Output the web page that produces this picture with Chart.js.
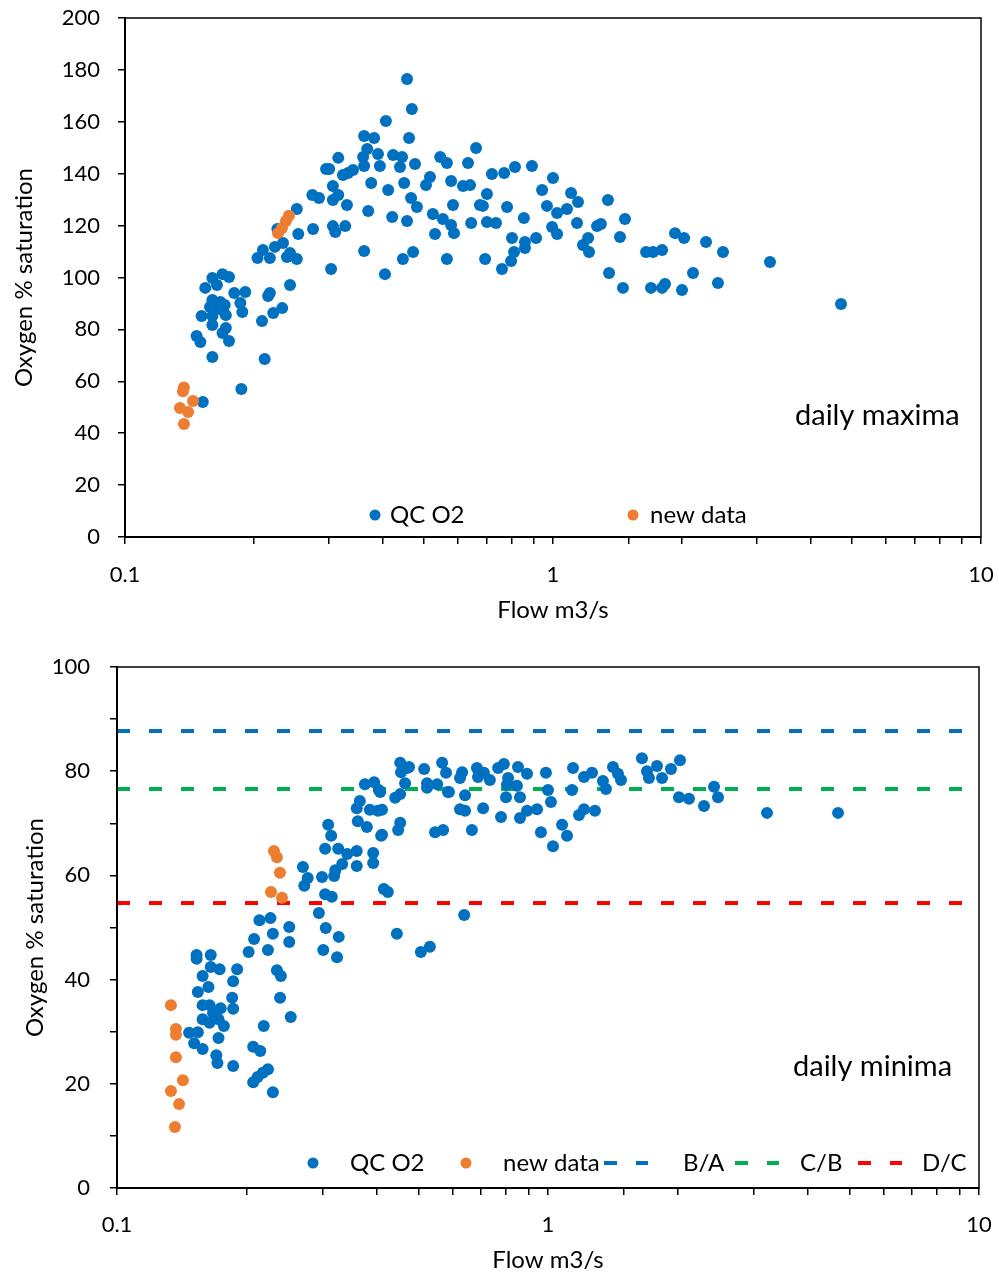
<!DOCTYPE html>
<html>
<head>
<meta charset="utf-8">
<title>Oxygen saturation vs flow</title>
<script src="https://cdn.jsdelivr.net/npm/chart.js@4.4.1/dist/chart.umd.min.js"></script>
<style>
  html, body { margin: 0; padding: 0; background: #fff; }
  .wrap { position: absolute; left: 0; width: 999px; }
  #top { top: 0; height: 640px; }
  #bottom { top: 640px; height: 637px; }
</style>
</head>
<body>
<div class="wrap" id="top"><canvas id="maxChart"></canvas></div>
<div class="wrap" id="bottom"><canvas id="minChart"></canvas></div>
<script>
// ---- data ----
// daily maxima, QC O2
const maxQcFlow = [
  0.456, 0.468, 0.407, 0.362, 0.382, 0.461, 0.368, 0.360, 0.390, 0.394,
  0.423, 0.444, 0.439, 0.476, 0.362, 0.315, 0.295, 0.300, 0.323, 0.332,
  0.341, 0.306, 0.315, 0.306, 0.274, 0.284, 0.376, 0.412, 0.449, 0.466,
  0.481, 0.330, 0.252, 0.370, 0.421, 0.456, 0.275, 0.306, 0.310, 0.327,
  0.254, 0.362, 0.471, 0.446, 0.303, 0.405, 0.243, 0.239, 0.234, 0.224,
  0.210, 0.204, 0.218, 0.243, 0.252, 0.227, 0.169, 0.175, 0.160, 0.154,
  0.164, 0.180, 0.191, 0.218, 0.216, 0.160, 0.167, 0.171, 0.158, 0.164,
  0.186, 0.188, 0.151, 0.160, 0.172, 0.169, 0.233, 0.222, 0.209, 0.160,
  0.172, 0.169, 0.175, 0.147, 0.150, 0.160, 0.212, 0.187, 0.152, 0.545,
  0.565, 0.516, 0.505, 0.578, 0.661, 0.633, 0.616, 0.640, 0.524, 0.553,
  0.578, 0.587, 0.584, 0.530, 0.644, 0.565, 0.675, 0.720, 0.769, 0.815,
  0.893, 0.686, 0.701, 0.781, 0.701, 0.736, 0.802, 0.855, 0.913, 0.860,
  0.811, 0.798, 0.860, 0.760, 0.694, 1.000, 0.943, 0.968, 1.022, 1.078,
  0.995, 1.022, 1.102, 1.144, 1.138, 1.175, 1.208, 1.214, 1.267, 1.294,
  1.344, 1.434, 1.473, 1.352, 1.457, 1.650, 1.713, 1.798, 1.928, 2.024,
  2.278, 2.496, 2.124, 2.429, 2.002, 1.694, 1.798, 1.827, 3.214, 4.709
];
const maxQcO2 = [
  176.5, 164.9, 160.3, 154.5, 153.8, 153.8, 149.5, 146.4, 147.6, 143.0,
  147.2, 146.4, 142.6, 143.7, 143.0, 146.1, 141.8, 141.8, 139.5, 140.3,
  141.4, 135.3, 131.8, 129.9, 131.8, 130.6, 136.4, 133.7, 136.4, 130.6,
  127.2, 127.9, 126.4, 125.6, 123.3, 121.8, 118.7, 119.8, 117.5, 119.8,
  116.8, 110.2, 109.8, 107.1, 103.3, 101.3, 97.1, 107.9, 113.3, 111.8,
  110.6, 107.5, 107.5, 109.4, 107.1, 118.7, 101.3, 100.2, 99.8, 96.0,
  97.1, 94.0, 94.4, 94.0, 92.9, 91.3, 90.6, 89.4, 88.6, 88.2,
  90.2, 86.7, 85.2, 85.2, 85.5, 87.5, 88.2, 86.3, 83.2, 81.7,
  80.5, 78.6, 75.5, 77.5, 75.1, 69.4, 68.6, 57.0, 52.0, 146.4,
  144.1, 138.7, 135.6, 137.2, 149.9, 144.1, 135.3, 135.6, 124.5, 122.5,
  120.2, 117.1, 127.9, 116.8, 121.0, 107.1, 127.9, 139.9, 140.3, 142.6,
  143.0, 127.6, 132.2, 127.2, 121.4, 121.0, 115.2, 122.9, 115.2, 113.7,
  109.8, 106.4, 111.4, 103.3, 107.1, 138.3, 133.7, 127.6, 124.9, 126.4,
  119.5, 116.8, 132.6, 129.1, 121.0, 112.5, 115.2, 109.8, 119.8, 120.6,
  129.9, 115.6, 122.5, 101.7, 96.0, 109.8, 109.8, 110.6, 117.1, 115.2,
  113.7, 109.8, 101.7, 97.9, 95.2, 96.0, 96.0, 97.5, 106.0, 89.8
];
// daily maxima, new data
const maxNewFlow = [0.1373, 0.1366, 0.1442, 0.1344, 0.1404, 0.1373, 0.2278, 0.2327, 0.2377, 0.2416];
const maxNewO2 = [57.6, 56.2, 52.4, 49.7, 48.2, 43.5, 117.1, 119.1, 121.8, 123.8];

// daily minima, QC O2
const minQcFlow = [
  0.214, 0.227, 0.251, 0.230, 0.208, 0.251, 0.202, 0.224, 0.153, 0.153,
  0.165, 0.165, 0.173, 0.190, 0.158, 0.186, 0.235, 0.240, 0.163, 0.154,
  0.185, 0.239, 0.158, 0.164, 0.174, 0.186, 0.167, 0.158, 0.172, 0.164,
  0.177, 0.147, 0.154, 0.172, 0.151, 0.158, 0.253, 0.219, 0.207, 0.215,
  0.170, 0.171, 0.186, 0.224, 0.218, 0.212, 0.207, 0.230, 0.454, 0.471,
  0.456, 0.516, 0.568, 0.580, 0.632, 0.625, 0.684, 0.376, 0.395, 0.405,
  0.466, 0.524, 0.553, 0.589, 0.642, 0.442, 0.454, 0.366, 0.386, 0.403,
  0.360, 0.625, 0.642, 0.362, 0.380, 0.454, 0.449, 0.410, 0.547, 0.571,
  0.666, 0.309, 0.314, 0.304, 0.326, 0.342, 0.360, 0.393, 0.393, 0.360,
  0.333, 0.321, 0.319, 0.299, 0.270, 0.277, 0.272, 0.304, 0.315, 0.416,
  0.425, 0.294, 0.305, 0.327, 0.301, 0.324, 0.446, 0.507, 0.532, 0.639,
  0.408, 0.412, 0.412, 0.476, 0.524, 0.586, 0.688, 0.710, 0.733, 0.766,
  0.790, 0.808, 0.803, 0.847, 0.799, 0.861, 0.852, 0.894, 0.707, 0.778,
  0.861, 0.894, 0.943, 0.989, 1.000, 1.016, 0.963, 1.078, 1.107, 1.027,
  1.143, 1.137, 1.212, 1.265, 1.180, 1.212, 1.285, 1.341, 1.363, 1.415,
  1.453, 1.477, 1.652, 1.697, 1.715, 1.790, 1.839, 1.929, 2.024, 2.013,
  2.124, 2.301, 2.428, 2.480, 3.222, 4.709
];
const minQcO2 = [
  51.4, 51.8, 50.1, 48.8, 47.8, 47.2, 45.3, 45.7, 44.7, 44.0,
  44.7, 42.4, 42.0, 42.0, 40.7, 39.7, 41.8, 40.7, 38.6, 37.6,
  36.5, 36.5, 35.1, 35.1, 34.5, 34.4, 33.6, 32.4, 32.4, 31.7,
  31.1, 29.8, 29.9, 28.8, 27.8, 26.7, 32.8, 31.1, 27.1, 26.3,
  25.5, 24.0, 23.4, 22.8, 22.1, 21.3, 20.3, 18.4, 81.6, 80.6,
  79.8, 80.4, 81.6, 79.7, 79.8, 78.7, 80.6, 77.5, 77.9, 76.4,
  77.7, 77.7, 77.5, 76.0, 75.4, 74.9, 75.6, 74.3, 72.6, 72.4,
  72.9, 72.7, 72.4, 70.4, 69.3, 70.1, 68.7, 67.6, 68.3, 68.7,
  68.7, 69.7, 67.6, 65.1, 65.1, 64.1, 64.7, 64.3, 62.4, 61.8,
  62.2, 61.0, 59.9, 59.7, 61.6, 59.5, 58.0, 56.4, 55.9, 57.4,
  56.8, 52.8, 49.9, 48.2, 45.7, 44.3, 48.8, 45.3, 46.3, 52.4,
  76.0, 72.6, 67.8, 80.8, 76.8, 76.0, 78.9, 79.7, 78.3, 80.6,
  81.4, 78.7, 77.4, 77.2, 75.0, 75.0, 80.8, 79.5, 72.9, 71.2,
  71.0, 72.4, 72.7, 79.7, 76.4, 74.1, 68.3, 69.7, 67.6, 65.6,
  80.6, 76.4, 78.9, 79.7, 71.6, 72.7, 72.4, 78.1, 76.6, 80.8,
  79.5, 78.3, 82.5, 80.0, 78.7, 81.0, 78.7, 80.4, 82.1, 75.0,
  74.7, 73.3, 77.0, 75.0, 72.0, 72.0
];
// daily minima, new data
const minNewFlow = [0.1334, 0.1370, 0.1370, 0.1370, 0.1422, 0.1334, 0.1393, 0.1363, 0.2313, 0.2350, 0.2388, 0.2277, 0.2414];
const minNewO2 = [35.1, 30.5, 29.4, 25.1, 20.7, 18.6, 16.1, 11.7, 64.7, 63.5, 60.5, 56.8, 55.7];

// status class boundaries (horizontal dashed lines on the minima chart)
const bandNames = ['B/A', 'C/B', 'D/C'];
const bandValues = [87.7, 76.6, 54.7];
const bandColors = ['#0070C0', '#00B050', '#FF0000'];

const flowRange = [0.1, 10];
const flowLabels = [0.1, 1, 10];

const BLUE = '#0070C0';
const ORANGE = '#ED7D31';

Chart.defaults.font.family = 'Lato, "Open Sans", sans-serif';
Chart.defaults.color = '#000';

function pts(xs, ys) {
  return xs.map((x, i) => ({ x: x, y: ys[i] }));
}

function dotSet(label, xs, ys, color, order) {
  return {
    label: label,
    data: pts(xs, ys),
    backgroundColor: color,
    borderWidth: 0,
    pointRadius: 6,
    pointHoverRadius: 6,
    order: order
  };
}

// frame round the plot area, in-plot legend and the corner note
const framePlugin = {
  id: 'frameAndLegend',
  afterDraw(chart, args, opts) {
    const { ctx, chartArea: a } = chart;
    const sets = chart.data.datasets;
    ctx.save();
    ctx.strokeStyle = '#000';
    ctx.lineWidth = 1.5;
    ctx.strokeRect(a.left, a.top, a.right - a.left, a.bottom - a.top);

    ctx.textBaseline = 'middle';
    ctx.textAlign = 'left';
    ctx.font = '24px Lato';
    opts.items.forEach((it) => {
      const ds = sets[it.ds];
      if (ds.showLine) {
        ctx.strokeStyle = ds.borderColor;
        ctx.lineWidth = 4;
        ctx.setLineDash([13, 19]);
        ctx.beginPath();
        ctx.moveTo(it.x, opts.y);
        ctx.lineTo(it.x + 44, opts.y);
        ctx.stroke();
        ctx.setLineDash([]);
      } else {
        ctx.fillStyle = ds.backgroundColor;
        ctx.beginPath();
        ctx.arc(it.x, opts.y, 5.5, 0, Math.PI * 2);
        ctx.fill();
      }
      ctx.fillStyle = '#000';
      ctx.fillText(ds.label, it.textX, opts.y);
    });

    ctx.font = '29px Lato';
    ctx.fillText(opts.note, opts.noteX, opts.noteY);
    ctx.restore();
  }
};

function makeScales(cfg) {
  return {
    x: {
      type: 'logarithmic',
      min: flowRange[0],
      max: flowRange[1],
      afterFit: (s) => {
        s.height = cfg.xHeight;
        s.paddingLeft = 0;
        s.paddingRight = 0;
      },
      border: { color: '#000', width: 2 },
      grid: { drawOnChartArea: false, drawTicks: true, tickLength: 7, color: '#000', lineWidth: 1.5 },
      ticks: {
        autoSkip: false,
        maxRotation: 0,
        padding: cfg.xTickPad,
        font: { size: 22 },
        callback: (v) => (flowLabels.some((t) => Math.abs(t - v) < 1e-9) ? String(v) : '')
      },
      title: {
        display: true,
        text: 'Flow m3/s',
        font: { size: 24 },
        padding: { top: 0, bottom: cfg.xTitlePad }
      }
    },
    y: {
      min: 0,
      max: cfg.yMax,
      afterFit: (s) => {
        s.width = cfg.yWidth;
        s.paddingTop = 0;
        s.paddingBottom = 0;
      },
      border: { color: '#000', width: 2 },
      grid: { drawOnChartArea: false, drawTicks: true, tickLength: 7, color: '#000', lineWidth: 1.5 },
      ticks: {
        stepSize: 10,
        padding: cfg.yTickPad,
        font: { size: 22 },
        callback: (v) => (v % 20 === 0 ? String(v) : '')
      },
      title: {
        display: true,
        text: 'Oxygen % saturation',
        font: { size: 24 },
        padding: { top: cfg.yTitlePad, bottom: 0 }
      }
    }
  };
}

const baseOptions = {
  responsive: true,
  maintainAspectRatio: false,
  animation: false,
  events: []
};

// ---- daily maxima ----
new Chart(document.getElementById('maxChart'), {
  type: 'scatter',
  data: {
    datasets: [
      dotSet('QC O2', maxQcFlow, maxQcO2, BLUE, 2),
      dotSet('new data', maxNewFlow, maxNewO2, ORANGE, 1)
    ]
  },
  options: Object.assign({}, baseOptions, {
    layout: { padding: { top: 18, right: 18, left: 0, bottom: 0 } },
    scales: makeScales({ yMax: 200, yWidth: 125, xHeight: 103, xTickPad: 18, yTickPad: 18, xTitlePad: 15, yTitlePad: 10 }),
    plugins: {
      legend: { display: false },
      tooltip: { enabled: false },
      frameAndLegend: {
        y: 515,
        items: [{ ds: 0, x: 375, textX: 390 }, { ds: 1, x: 633, textX: 650 }],
        note: 'daily maxima', noteX: 795, noteY: 416
      }
    }
  }),
  plugins: [framePlugin]
});

// ---- daily minima ----
const minSets = [
  dotSet('QC O2', minQcFlow, minQcO2, BLUE, 2),
  dotSet('new data', minNewFlow, minNewO2, ORANGE, 1)
];
bandNames.forEach((name, i) => {
  minSets.push({
    label: name,
    data: pts(flowRange, [bandValues[i], bandValues[i]]),
    showLine: true,
    borderColor: bandColors[i],
    backgroundColor: bandColors[i],
    borderWidth: 4,
    borderDash: [13, 19],
    pointRadius: 0,
    order: 3
  });
});

new Chart(document.getElementById('minChart'), {
  type: 'scatter',
  data: { datasets: minSets },
  options: Object.assign({}, baseOptions, {
    layout: { padding: { top: 27, right: 20, left: 0, bottom: 0 } },
    scales: makeScales({ yMax: 100, yWidth: 117, xHeight: 89, xTickPad: 17, yTickPad: 20, xTitlePad: 2, yTitlePad: 21 }),
    plugins: {
      legend: { display: false },
      tooltip: { enabled: false },
      frameAndLegend: {
        y: 523,
        items: [
          { ds: 0, x: 313, textX: 350 },
          { ds: 1, x: 466, textX: 503 },
          { ds: 2, x: 604, textX: 683 },
          { ds: 3, x: 735, textX: 800 },
          { ds: 4, x: 858, textX: 922 }
        ],
        note: 'daily minima', noteX: 793, noteY: 427
      }
    }
  }),
  plugins: [framePlugin]
});
</script>
</body>
</html>
